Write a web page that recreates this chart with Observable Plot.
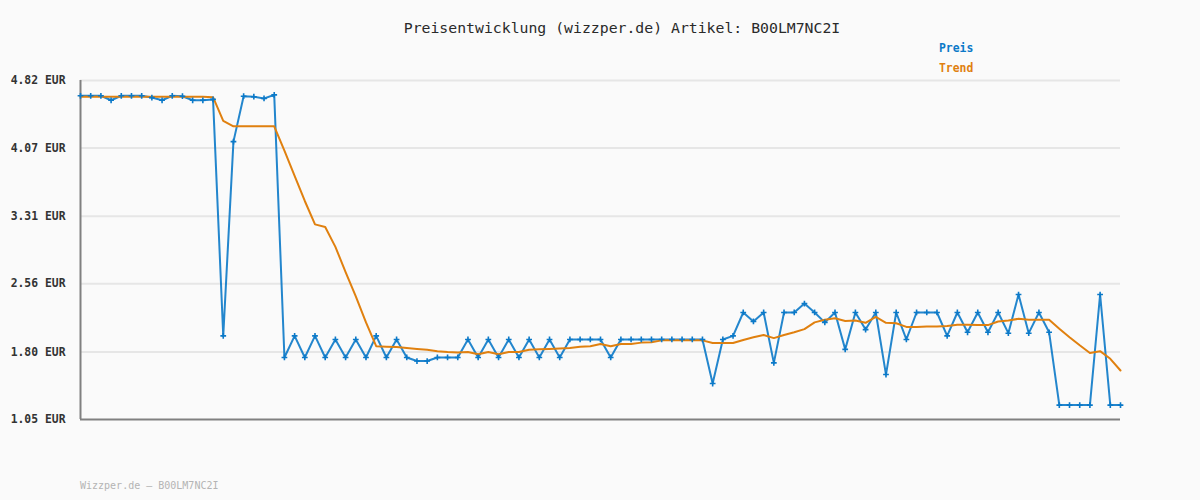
<!DOCTYPE html>
<html>
<head>
<meta charset="utf-8">
<script src="https://cdn.jsdelivr.net/npm/d3@7"></script>
<script src="https://cdn.jsdelivr.net/npm/@observablehq/plot@0.6"></script>
<style>
  html, body { margin: 0; padding: 0; background: #fafafa; }
  #wrap { position: relative; width: 1200px; height: 500px; background: #fafafa; font-family: "DejaVu Sans Mono", monospace; }
  #title { position: absolute; left: 0; width: 1244px; top: 19px; text-align: center; font-size: 14.8px; color: #2a2a2a; }
  .leg { position: absolute; left: 939px; font-size: 11.4px; font-weight: bold; }
  #footer { position: absolute; left: 80px; top: 480px; font-size: 10px; color: #b4b4b4; }
  svg { position: absolute; left: 0; top: 0; }
</style>
</head>
<body>
<div id="wrap">
  <div id="chart"></div>
  <div id="title">Preisentwicklung (wizzper.de) Artikel: B00LM7NC2I</div>
  <div class="leg" style="top:41px;color:#0b79c8">Preis</div>
  <div class="leg" style="top:61px;color:#e0800f">Trend</div>
  <div id="footer">Wizzper.de – B00LM7NC2I</div>
</div>
<script>
const yTicks = [1.05, 1.80, 2.56, 3.31, 4.07, 4.82];

const preis = [
  4.65, 4.65, 4.65, 4.60, 4.65, 4.65, 4.65, 4.63, 4.60, 4.65,
  4.645, 4.60, 4.60, 4.61, 1.98, 4.14, 4.645, 4.64, 4.62, 4.66,
  1.74, 1.98, 1.74, 1.98, 1.74, 1.94, 1.74, 1.94, 1.74, 1.98,
  1.74, 1.94, 1.74, 1.70, 1.70, 1.74, 1.74, 1.74, 1.94, 1.74,
  1.94, 1.74, 1.94, 1.74, 1.94, 1.74, 1.94, 1.74, 1.94, 1.94,
  1.94, 1.94, 1.74, 1.94, 1.94, 1.94, 1.94, 1.94, 1.94, 1.94,
  1.94, 1.94, 1.45, 1.94, 1.98, 2.24, 2.14, 2.24, 1.68, 2.24,
  2.24, 2.34, 2.24, 2.13, 2.24, 1.83, 2.24, 2.05, 2.24, 1.55,
  2.24, 1.94, 2.24, 2.24, 2.24, 1.98, 2.24, 2.02, 2.24, 2.02,
  2.24, 2.01, 2.44, 2.01, 2.24, 2.02, 1.21, 1.21, 1.21, 1.21,
  2.44, 1.21, 1.21
];

const trend = [
  4.64, 4.64, 4.64, 4.64, 4.64, 4.64, 4.64, 4.64, 4.64, 4.64,
  4.64, 4.64, 4.64, 4.635, 4.37, 4.31, 4.31, 4.31, 4.31, 4.31,
  4.04, 3.76, 3.48, 3.22, 3.19, 2.97, 2.69, 2.42, 2.13, 1.865,
  1.86, 1.855, 1.845, 1.835, 1.825, 1.81, 1.80, 1.795, 1.80, 1.775,
  1.80, 1.775, 1.80, 1.80, 1.825, 1.83, 1.835, 1.84, 1.845, 1.86,
  1.865, 1.89, 1.865, 1.89, 1.89, 1.905, 1.91, 1.93, 1.93, 1.93,
  1.93, 1.93, 1.90, 1.90, 1.90, 1.935, 1.965, 1.99, 1.955, 1.99,
  2.02, 2.055, 2.13, 2.16, 2.175, 2.145, 2.15, 2.125, 2.19, 2.125,
  2.12, 2.08, 2.08, 2.085, 2.085, 2.09, 2.105, 2.105, 2.10, 2.10,
  2.14, 2.15, 2.17, 2.16, 2.16, 2.16, 2.06, 1.965, 1.875, 1.79,
  1.81, 1.725, 1.595
];

const preisData = preis.map((v, i) => ({i, v}));
const trendData = trend.map((v, i) => ({i, v}));

const blue = "#0b79c8";
const orange = "#e0800f";

const chart = Plot.plot({
  width: 1200,
  height: 500,
  marginLeft: 80,
  marginRight: 80,
  marginTop: 80,
  marginBottom: 81,
  style: { background: "transparent", fontFamily: "DejaVu Sans Mono, monospace" },
  x: { domain: [0, preis.length - 1], axis: null },
  y: {
    domain: [1.05, 4.82],
    ticks: yTicks,
    tickFormat: d => d.toFixed(2) + " EUR",
    tickSize: 0,
    tickPadding: 15,
    label: null
  },
  marks: [
    Plot.ruleY(yTicks.slice(1), { stroke: "#e6e6e6", strokeWidth: 2 }),
    Plot.axisY({
      ticks: yTicks,
      tickFormat: d => d.toFixed(2) + " EUR",
      tickSize: 0,
      tickPadding: 15,
      label: null,
      fontSize: 11.4,
      fontWeight: "bold",
      fill: "#333"
    }),
    Plot.ruleX([0], { stroke: "#808080", strokeWidth: 2 }),
    Plot.ruleY([1.05], { stroke: "#808080", strokeWidth: 2 }),
    Plot.line(preisData, { x: "i", y: "v", stroke: blue, strokeWidth: 2, strokeOpacity: 0.9 }),
    Plot.line(trendData, { x: "i", y: "v", stroke: orange, strokeWidth: 2 }),
    Plot.dot(preisData, { x: "i", y: "v", symbol: "plus", r: 2, stroke: blue, strokeWidth: 1.6 })
  ]
});
document.getElementById("chart").appendChild(chart);
</script>
</body>
</html>
